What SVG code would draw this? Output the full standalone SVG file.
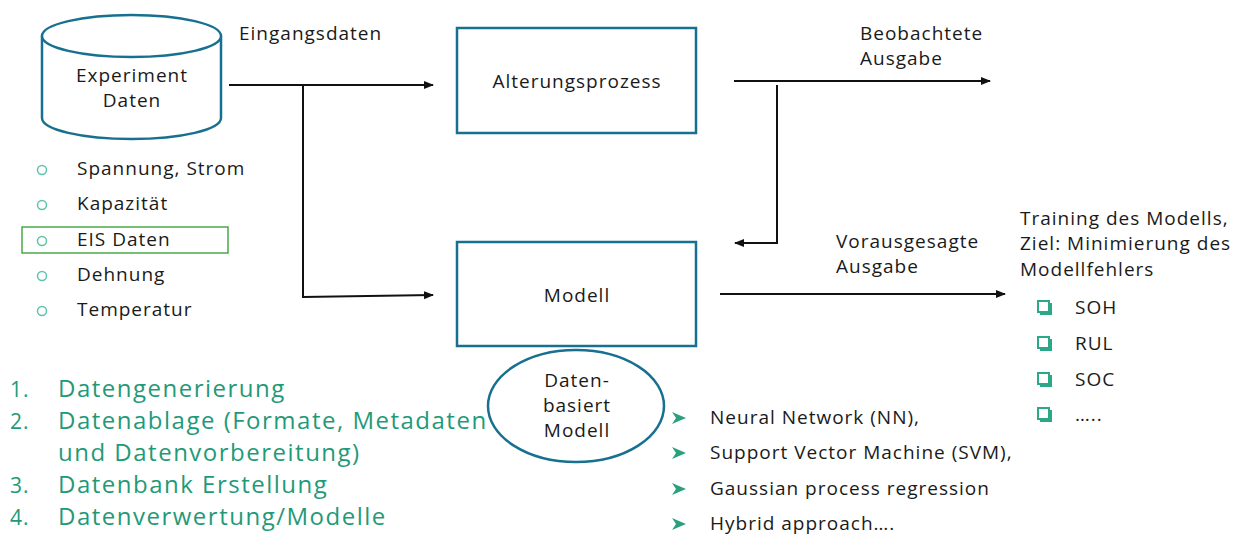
<svg xmlns="http://www.w3.org/2000/svg" width="1241" height="534" viewBox="0 0 1241 534">
<defs>
<style>
text{font-family:"Open Sans","Noto Sans","Liberation Sans",sans-serif;fill:#1a1a1a;font-size:19px;letter-spacing:1px}
.node{fill:#fff;stroke:#17708f;stroke-width:2.5}
.c{text-anchor:middle}
.con{fill:none;stroke:#111;stroke-width:2}
.g{fill:#1f9a78;font-size:24px;letter-spacing:1.5px}
.n{fill:#1f9a78;font-size:21px;letter-spacing:1px}
.bul{fill:none;stroke:#5cc4a8;stroke-width:1.5}
.chk{fill:#fff;stroke:#2aa888;stroke-width:2}
.arr{fill:#2aa07c}
</style>
<marker id="ah" viewBox="0 0 10 10" refX="9" refY="5" markerWidth="5" markerHeight="5" orient="auto">
<path d="M0,1 L10,5 L0,9 Z" fill="#111"/>
</marker>
</defs>
<rect width="1241" height="534" fill="#fff"/>

<g id="experiment-daten">
<path class="node" d="M42,36 L42,118 A89.5,21 0 0 0 221,118 L221,36"/>
<ellipse class="node" cx="131.5" cy="36" rx="89.5" ry="21"/>
<text class="c" x="132" y="82">Experiment</text>
<text class="c" x="132" y="107">Daten</text>
</g>

<g id="alterungsprozess">
<rect class="node" x="457" y="28" width="239" height="105"/>
<text class="c" x="577" y="88">Alterungsprozess</text>
</g>

<g id="modell">
<rect class="node" x="457" y="242" width="239" height="104"/>
<text class="c" x="577" y="302">Modell</text>
</g>

<g id="datenbasiert-modell">
<ellipse class="node" cx="576" cy="406" rx="88" ry="56"/>
<text class="c" x="577" y="387">Daten-</text>
<text class="c" x="577" y="412">basiert</text>
<text class="c" x="577" y="437">Modell</text>
</g>

<g id="connectors">
<path class="con" d="M229,85 L433,85" marker-end="url(#ah)"/>
<path class="con" d="M303,85 L303,297 L433,295" marker-end="url(#ah)"/>
<path class="con" d="M734,81 L990,81" marker-end="url(#ah)"/>
<path class="con" d="M777,85 L777,243 L735,243" marker-end="url(#ah)"/>
<path class="con" d="M720,294 L1005,294" marker-end="url(#ah)"/>
</g>

<g id="labels">
<text x="239" y="40">Eingangsdaten</text>
<text x="860" y="40">Beobachtete</text>
<text x="860" y="65">Ausgabe</text>
<text x="836" y="248">Vorausgesagte</text>
<text x="836" y="273">Ausgabe</text>
<text x="1020" y="225">Training des Modells,</text>
<text x="1020" y="250">Ziel: Minimierung des</text>
<text x="1020" y="276">Modellfehlers</text>
</g>

<g id="input-list">
<rect x="22" y="227" width="206" height="26" fill="none" stroke="#4aa84a" stroke-width="1.5"/>
<circle class="bul" cx="42" cy="170" r="4.5"/>
<circle class="bul" cx="42" cy="205" r="4.5"/>
<circle class="bul" cx="42" cy="241" r="4.5"/>
<circle class="bul" cx="42" cy="276" r="4.5"/>
<circle class="bul" cx="42" cy="311" r="4.5"/>
<text x="77" y="175">Spannung, Strom</text>
<text x="77" y="210">Kapazität</text>
<text x="77" y="246">EIS Daten</text>
<text x="77" y="281">Dehnung</text>
<text x="77" y="316">Temperatur</text>
</g>

<g id="output-list">
<rect x="1040" y="303" width="12" height="12" fill="#2aa888"/>
<rect x="1040" y="339" width="12" height="12" fill="#2aa888"/>
<rect x="1040" y="375" width="12" height="12" fill="#2aa888"/>
<rect x="1040" y="410" width="12" height="12" fill="#2aa888"/>
<rect class="chk" x="1038" y="301" width="11" height="11"/>
<rect class="chk" x="1038" y="337" width="11" height="11"/>
<rect class="chk" x="1038" y="373" width="11" height="11"/>
<rect class="chk" x="1038" y="408" width="11" height="11"/>
<text x="1075" y="314">SOH</text>
<text x="1075" y="350">RUL</text>
<text x="1075" y="386">SOC</text>
<text x="1075" y="421">…..</text>
</g>

<g id="method-list">
<path class="arr" d="M672,412 L686,418 L672,424 L676,418 Z"/>
<path class="arr" d="M672,447 L686,453 L672,459 L676,453 Z"/>
<path class="arr" d="M672,483 L686,489 L672,495 L676,489 Z"/>
<path class="arr" d="M672,518 L686,524 L672,530 L676,524 Z"/>
<text x="710" y="424">Neural Network (NN),</text>
<text x="710" y="459">Support Vector Machine (SVM),</text>
<text x="710" y="495">Gaussian process regression</text>
<text x="710" y="530">Hybrid approach….</text>
</g>

<g id="steps-list">
<text class="n" x="10" y="397">1.</text>
<text class="n" x="10" y="429">2.</text>
<text class="n" x="10" y="493">3.</text>
<text class="n" x="10" y="525">4.</text>
<text class="g" x="58" y="397">Datengenerierung</text>
<text class="g" x="58" y="429">Datenablage (Formate, Metadaten</text>
<text class="g" x="58" y="461">und Datenvorbereitung)</text>
<text class="g" x="58" y="493">Datenbank Erstellung</text>
<text class="g" x="58" y="525">Datenverwertung/Modelle</text>
</g>
</svg>
